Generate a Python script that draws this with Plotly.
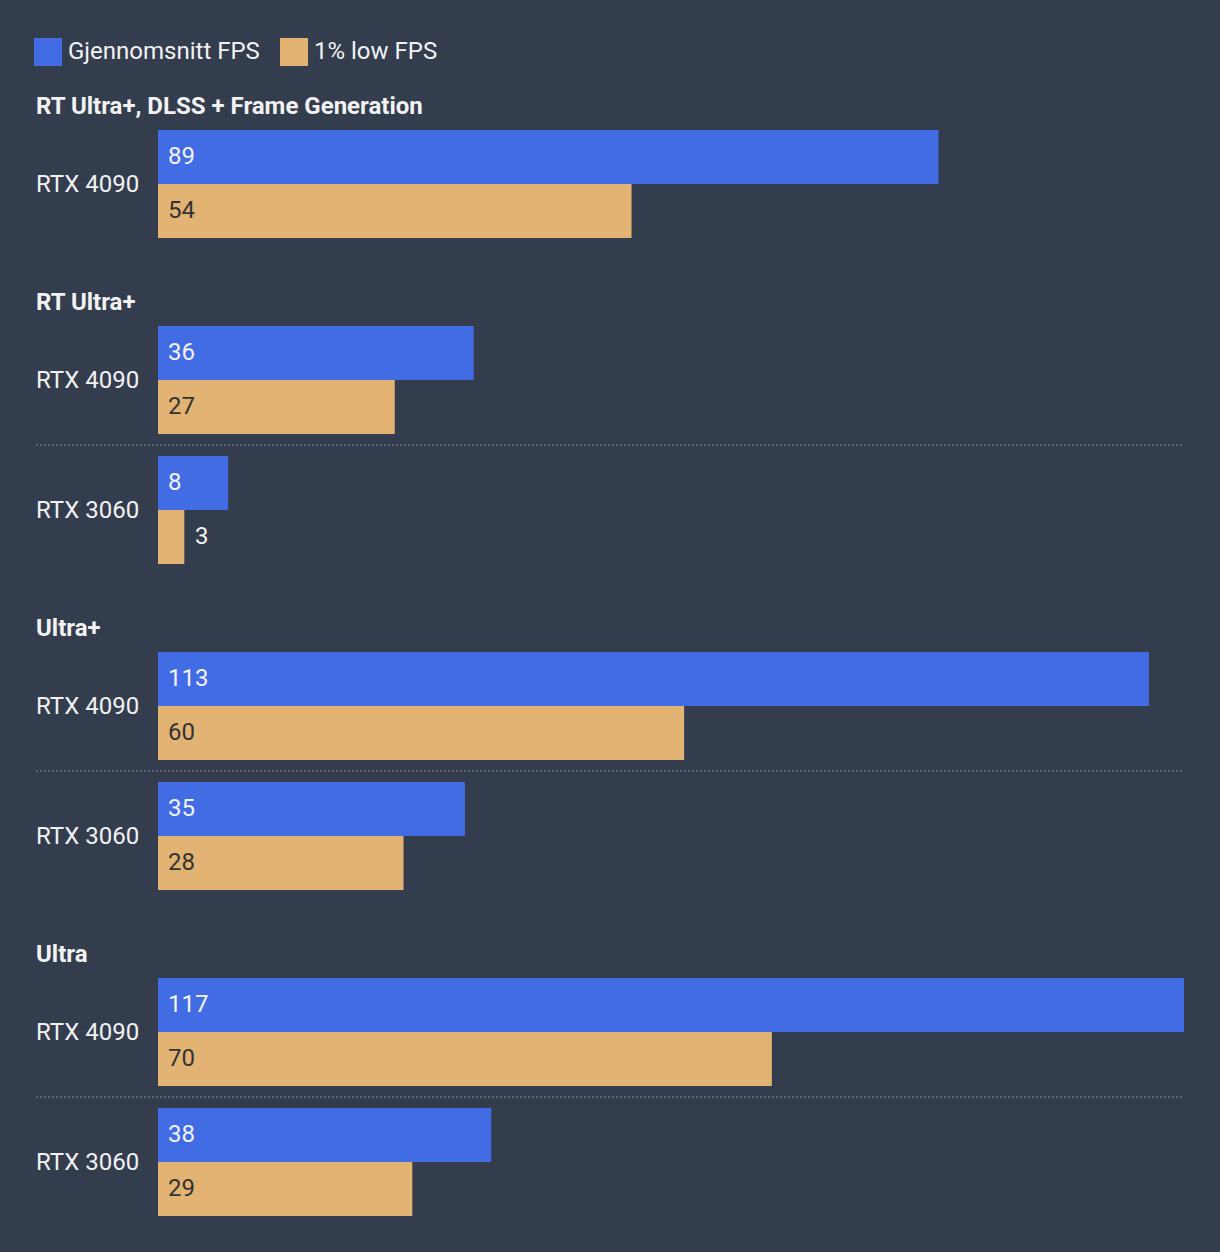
import plotly.graph_objects as go

# data
settings = ["RT Ultra+, DLSS + Frame Generation", "RT Ultra+", "Ultra+", "Ultra"]
gpus = [["RTX 4090"], ["RTX 4090", "RTX 3060"], ["RTX 4090", "RTX 3060"], ["RTX 4090", "RTX 3060"]]
avg_fps = [[89], [36, 8], [113, 35], [117, 38]]
low_fps = [[54], [27, 3], [60, 28], [70, 29]]
series_names = ["Gjennomsnitt FPS", "1% low FPS"]

W, H = 1220, 1252
BG = "#333d4e"
BLUE = "#426ce3"
TAN = "#e2b373"
TXT = "#f2f2f2"
DARK = "#333333"
SEP = "#5c6676"
FONT = "Roboto"
FS = 24

bar_left, bar_right = 158, 1184
max_val = max(max(v) for v in avg_fps + low_fps)
scale = (bar_right - bar_left) / max_val

fig = go.Figure()
annotations = []
shapes = []

blue_y, blue_x, tan_y, tan_x = [], [], [], []

y = 106
for name, rows, avg, low in zip(settings, gpus, avg_fps, low_fps):
    annotations.append(dict(x=36 / W, xref="paper", y=y, yref="y", text="<b>" + name + "</b>",
                            showarrow=False, xanchor="left", yanchor="middle", xshift=-2,
                            font=dict(family=FONT, size=FS, color=TXT)))
    top = y + 24
    for i, (gpu, a, l) in enumerate(zip(rows, avg, low)):
        if i > 0:
            shapes.append(dict(type="line", xref="paper", yref="y", x0=36 / W, x1=bar_right / W,
                               y0=top + 11, y1=top + 11,
                               line=dict(color=SEP, width=2, dash="2px,2px")))
            top += 22
        blue_y.append(top + 27)
        blue_x.append(a)
        tan_y.append(top + 81)
        tan_x.append(l)
        annotations.append(dict(x=36 / W, xref="paper", y=top + 54, yref="y", text=gpu,
                                showarrow=False, xanchor="left", yanchor="middle", xshift=-2,
                                font=dict(family=FONT, size=FS, color=TXT)))
        for val, cy, inside_col in ((a, top + 27, TXT), (l, top + 81, DARK)):
            fits = val * scale > 40
            annotations.append(dict(x=0 if fits else val, xref="x", y=cy - 1, yref="y", text=str(val),
                                    showarrow=False, xanchor="left", yanchor="middle",
                                    xshift=8 if fits else 9,
                                    font=dict(family=FONT, size=FS, color=inside_col if fits else TXT)))
        top += 108
    y = top + 64

fig.add_trace(go.Bar(x=blue_x, y=blue_y, orientation="h", width=54, marker=dict(color=BLUE, line=dict(width=0)),
                     name=series_names[0], showlegend=False, hoverinfo="x"))
fig.add_trace(go.Bar(x=tan_x, y=tan_y, orientation="h", width=54, marker=dict(color=TAN, line=dict(width=0)),
                     name=series_names[1], showlegend=False, hoverinfo="x"))

# legend drawn by hand to match the big colour squares
for name, col, sx in zip(series_names, [BLUE, TAN], [34, 280]):
    shapes.append(dict(type="rect", xref="paper", yref="y", x0=sx / W, x1=(sx + 28) / W, y0=38, y1=66,
                       fillcolor=col, line=dict(width=0)))
    annotations.append(dict(x=(sx + 32) / W, xref="paper", y=51, yref="y", text=name,
                            showarrow=False, xanchor="left", yanchor="middle",
                            font=dict(family=FONT, size=FS, color=TXT)))

fig.update_layout(
    width=W, height=H,
    margin=dict(l=0, r=0, t=0, b=0),
    paper_bgcolor=BG, plot_bgcolor=BG,
    barmode="overlay",
    xaxis=dict(range=[-bar_left / scale, (W - bar_left) / scale], visible=False, fixedrange=True),
    yaxis=dict(range=[H, 0], visible=False, fixedrange=True),
    annotations=annotations, shapes=shapes,
    font=dict(family=FONT),
)

fig.write_html("out.html", config={"displayModeBar": False},
               post_script="document.body.style.margin='0';document.body.style.overflow='hidden';")
